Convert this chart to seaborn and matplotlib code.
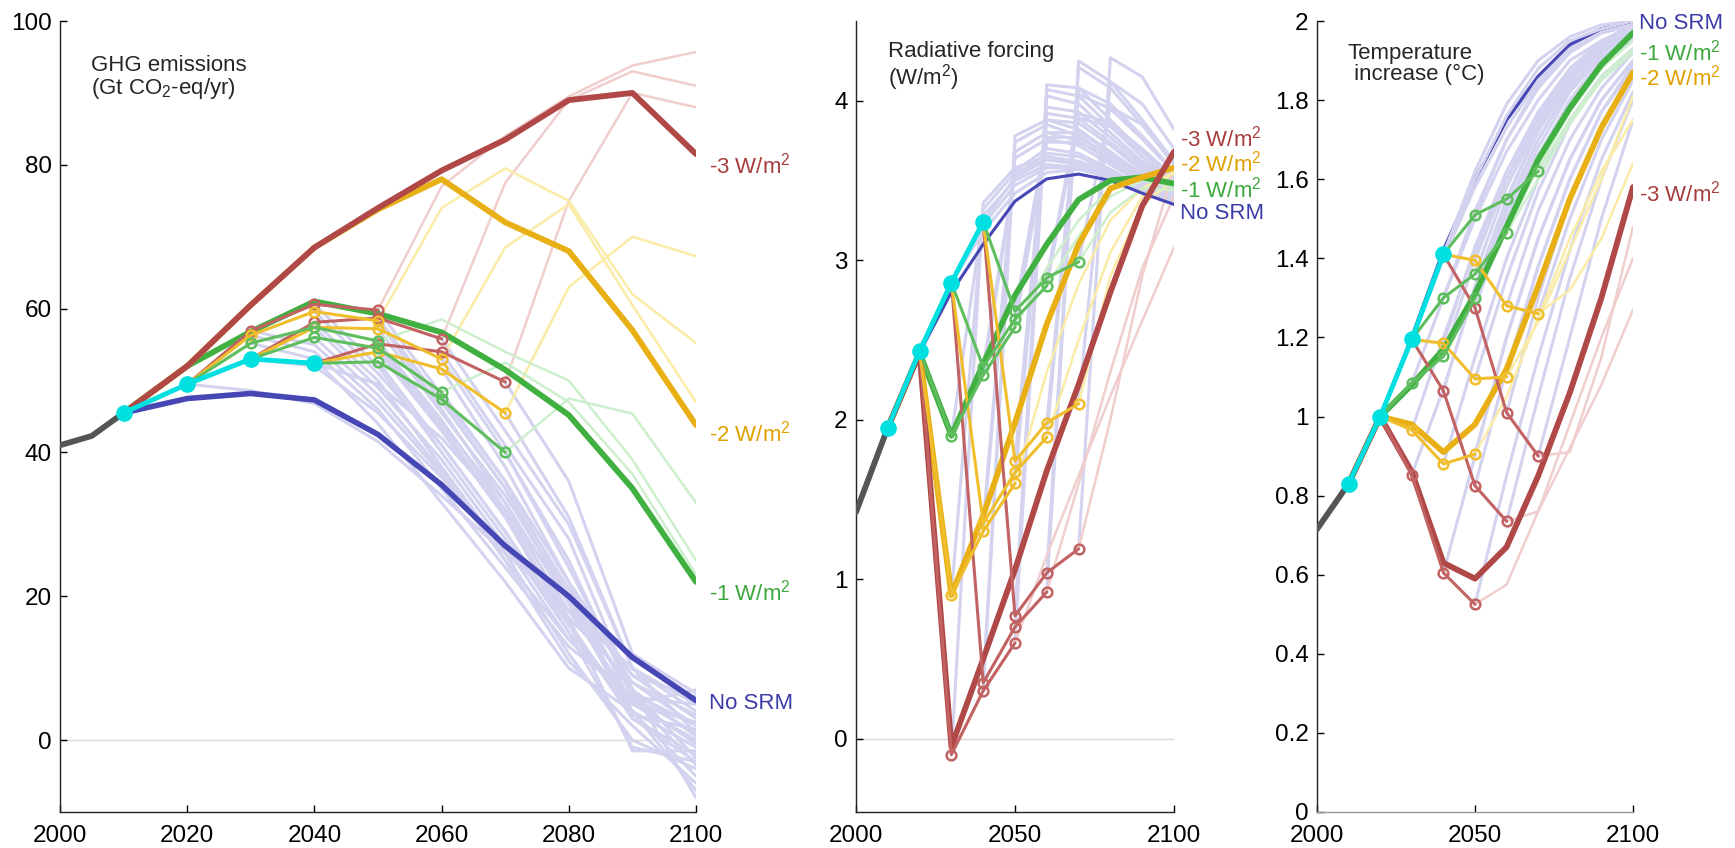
import numpy as np
import pandas as pd
import seaborn as sns
import matplotlib.pyplot as plt
from matplotlib.ticker import FormatStrFormatter

# ---------------------------------------------------------------- data
decades = [2010, 2020, 2030, 2040, 2050, 2060, 2070, 2080, 2090, 2100]

# GHG emissions (Gt CO2-eq/yr)
ghg_hist_years = [2000, 2005, 2010]
ghg_hist = [41.0, 42.3, 45.5]
ghg_cyan = [45.5, 49.5, 53.0, 52.4]
ghg_nosrm = [45.5, 47.5, 48.2, 47.3, 42.5, 35.5, 27.0, 20.0, 11.5, 5.5]
ghg_m1 = [45.5, 52.0, 56.8, 61.0, 59.3, 56.7, 51.5, 45.2, 35.0, 22.0]
ghg_m2 = [45.5, 52.0, 60.5, 68.5, 73.8, 78.0, 72.0, 68.0, 57.0, 43.8]
ghg_m3 = [45.5, 52.0, 60.5, 68.5, 74.0, 79.2, 83.5, 89.0, 90.0, 81.5]
ghg_red = [(2020, [49.5, 56.9, 60.6, 59.8]), (2030, [53.0, 58.1, 58.7, 55.8]),
           (2040, [52.4, 55.1, 54.0, 49.8])]
ghg_gold = [(2020, [49.5, 56.3, 59.6, 58.3]), (2030, [53.0, 57.4, 57.2, 53.0]),
            (2040, [52.4, 54.0, 51.6, 45.5])]
ghg_green = [(2020, [49.5, 55.2, 57.4, 55.5]), (2030, [53.0, 56.0, 54.5, 48.4]),
             (2040, [52.4, 52.6, 47.4, 40.0])]
ghg_red_faint = [(2050, [59.8, 77.0, 84.0, 89.5, 93.8, 95.7]),
                 (2060, [55.8, 77.5, 89.0, 93.0, 91.0]),
                 (2070, [49.8, 75.0, 90.0, 88.0])]
ghg_gold_faint = [(2050, [58.3, 74.0, 79.5, 75.0, 62.0, 55.2]),
                  (2060, [53.0, 68.5, 74.5, 60.5, 47.0]),
                  (2070, [45.5, 63.0, 70.0, 67.3])]
ghg_green_faint = [(2050, [55.5, 58.5, 54.0, 50.0, 39.0, 25.0]),
                   (2060, [48.4, 52.5, 47.0, 37.0, 23.0]),
                   (2070, [40.0, 47.5, 45.4, 33.0])]
ghg_lav = [
    (2020, [49.5, 48.6, 46.8, 41.5, 34.0, 26.0, 18.0, 10.0, 4.0]),
    (2030, [53.0, 52.0, 45.5, 36.5, 27.0, 17.0, 8.0, 2.0]),
    (2040, [52.4, 49.5, 42.0, 32.0, 20.0, 9.0, 3.0]),
    (2030, [56.9, 55.0, 47.0, 37.0, 25.0, 14.0, 5.0, 0.0]),
    (2030, [56.3, 54.0, 46.0, 35.0, 24.0, 13.0, 6.0, 1.0]),
    (2030, [55.2, 53.0, 44.0, 33.0, 22.0, 10.0, 4.0, -1.0]),
    (2040, [60.6, 52.0, 40.0, 28.0, 15.0, -1.0, -3.0]),
    (2040, [58.1, 50.0, 38.0, 26.0, 12.0, 0.0, -4.0]),
    (2040, [59.6, 51.0, 41.0, 29.0, 16.0, 3.0, -2.0]),
    (2040, [57.4, 49.0, 39.0, 27.0, 14.0, 6.0, 5.0]),
    (2040, [56.0, 48.0, 37.5, 25.0, 11.0, 2.0, -6.0]),
    (2050, [59.8, 48.0, 36.0, 22.0, 9.0, 6.0]),
    (2050, [58.7, 47.0, 35.0, 21.0, 8.0, 3.5]),
    (2050, [58.3, 46.0, 33.0, 19.0, 7.0, 0.5]),
    (2050, [57.2, 45.5, 34.0, 20.0, 6.5, 2.0]),
    (2050, [55.5, 44.5, 32.0, 18.0, 5.5, -0.5]),
    (2050, [55.1, 44.0, 33.0, 17.0, -1.5, -1.5]),
    (2050, [54.5, 43.5, 31.5, 16.5, 3.0, -3.0]),
    (2050, [54.0, 43.0, 31.0, 16.0, 4.0, -5.0]),
    (2050, [52.6, 41.0, 29.0, 15.0, 5.0, 2.5]),
    (2060, [55.8, 43.0, 30.0, 10.0, 5.0]),
    (2060, [54.0, 41.0, 28.0, 7.0, -8.0]),
    (2060, [53.0, 40.0, 25.0, 6.0, -3.5]),
    (2060, [51.6, 38.0, 22.0, 5.0, 7.0]),
    (2060, [48.4, 36.0, 20.0, 4.0, -7.0]),
    (2060, [47.4, 35.0, 19.0, 3.5, 1.5]),
    (2070, [49.8, 36.0, 12.0, 6.5]),
    (2070, [45.5, 31.0, 10.0, 1.0]),
    (2070, [40.0, 24.0, 7.0, -2.5]),
]

# Radiative forcing (W/m2)
rf_hist_years = [2000, 2010]
rf_hist = [1.42, 1.95]
rf_cyan = [1.95, 2.43, 2.86, 3.24]
rf_nosrm = [1.95, 2.42, 2.80, 3.10, 3.37, 3.51, 3.54, 3.50, 3.42, 3.35]
rf_m1 = [1.95, 2.42, 1.90, 2.35, 2.78, 3.10, 3.38, 3.50, 3.52, 3.48]
rf_m2 = [1.95, 2.42, 0.90, 1.40, 1.98, 2.60, 3.10, 3.45, 3.52, 3.58]
rf_m3 = [1.95, 2.42, -0.05, 0.50, 1.06, 1.68, 2.22, 2.80, 3.34, 3.68]
rf_red = [(2020, [2.43, -0.10, 0.30, 0.60]), (2030, [2.86, 0.35, 0.70, 0.92]),
          (2040, [3.24, 0.77, 1.04, 1.19])]
rf_gold = [(2020, [2.43, 0.90, 1.30, 1.60]), (2030, [2.86, 1.35, 1.67, 1.89]),
           (2040, [3.24, 1.74, 1.98, 2.10])]
rf_green = [(2020, [2.43, 1.90, 2.28, 2.58]), (2030, [2.86, 2.33, 2.63, 2.84]),
            (2040, [3.24, 2.68, 2.89, 2.99])]
rf_red_faint = [(2050, [0.60, 1.15, 1.65, 2.15, 2.62, 3.08]),
                (2060, [0.92, 1.60, 2.30, 2.95, 3.40]),
                (2070, [1.19, 2.00, 2.90, 3.58])]
rf_gold_faint = [(2050, [1.60, 2.30, 2.85, 3.25, 3.45, 3.55]),
                 (2060, [1.89, 2.50, 3.05, 3.40, 3.55]),
                 (2070, [2.10, 2.90, 3.35, 3.50])]
rf_green_faint = [(2050, [2.58, 2.95, 3.25, 3.45, 3.50, 3.48]),
                  (2060, [2.84, 3.15, 3.40, 3.50, 3.46]),
                  (2070, [2.99, 3.30, 3.45, 3.44])]
rf_lav = [
    (2020, [2.43, 2.86, 3.18, 3.42, 3.55, 3.57, 3.52, 3.44, 3.36]),
    (2030, [2.86, 3.22, 3.47, 3.58, 3.58, 3.52, 3.44, 3.37]),
    (2040, [3.24, 3.52, 3.63, 3.62, 3.55, 3.46, 3.38]),
    (2030, [-0.10, 3.36, 3.58, 3.65, 3.62, 3.55, 3.45, 3.37]),
    (2030, [0.90, 3.32, 3.55, 3.63, 3.60, 3.53, 3.44, 3.36]),
    (2030, [1.90, 3.28, 3.50, 3.60, 3.58, 3.52, 3.43, 3.35]),
    (2040, [0.35, 3.78, 3.88, 3.82, 3.68, 3.52, 3.40]),
    (2040, [0.30, 3.74, 3.85, 3.78, 3.64, 3.50, 3.39]),
    (2040, [1.35, 3.68, 3.80, 3.75, 3.62, 3.49, 3.38]),
    (2040, [1.30, 3.64, 3.76, 3.72, 3.60, 3.48, 3.37]),
    (2040, [2.33, 3.56, 3.70, 3.67, 3.57, 3.46, 3.36]),
    (2040, [2.28, 3.53, 3.67, 3.65, 3.56, 3.45, 3.36]),
    (2050, [0.77, 4.10, 4.08, 3.88, 3.68, 3.48]),
    (2050, [0.70, 4.07, 4.03, 3.84, 3.65, 3.46]),
    (2050, [0.60, 4.03, 3.98, 3.80, 3.62, 3.45]),
    (2050, [1.74, 3.96, 3.93, 3.77, 3.60, 3.44]),
    (2050, [1.67, 3.92, 3.89, 3.74, 3.58, 3.43]),
    (2050, [1.60, 3.88, 3.86, 3.72, 3.56, 3.42]),
    (2050, [2.68, 3.80, 3.80, 3.68, 3.54, 3.41]),
    (2050, [2.63, 3.77, 3.77, 3.66, 3.53, 3.40]),
    (2050, [2.58, 3.74, 3.74, 3.64, 3.52, 3.40]),
    (2060, [1.04, 4.25, 4.12, 3.88, 3.62]),
    (2060, [0.92, 4.21, 4.08, 3.85, 3.60]),
    (2060, [1.98, 4.08, 3.98, 3.78, 3.56]),
    (2060, [1.89, 4.04, 3.95, 3.76, 3.55]),
    (2060, [2.89, 3.92, 3.86, 3.70, 3.52]),
    (2060, [2.84, 3.89, 3.84, 3.68, 3.50]),
    (2070, [1.19, 4.27, 4.15, 3.82]),
    (2070, [2.10, 4.12, 3.98, 3.70]),
    (2070, [2.99, 3.96, 3.85, 3.62]),
]

# Temperature increase (deg C)
t_hist_years = [2000, 2010]
t_hist = [0.715, 0.83]
t_cyan = [0.83, 1.0, 1.195, 1.41]
t_nosrm = [0.83, 1.0, 1.20, 1.42, 1.60, 1.75, 1.86, 1.94, 1.98, 2.0]
t_m1 = [0.83, 1.0, 1.08, 1.17, 1.31, 1.48, 1.65, 1.78, 1.89, 1.97]
t_m2 = [0.83, 1.0, 0.98, 0.91, 0.98, 1.12, 1.33, 1.55, 1.73, 1.87]
t_m3 = [0.83, 1.0, 0.86, 0.63, 0.59, 0.67, 0.85, 1.06, 1.30, 1.58]
t_red = [(2020, [1.0, 0.853, 0.605, 0.525]), (2030, [1.195, 1.065, 0.825, 0.735]),
         (2040, [1.41, 1.275, 1.01, 0.90])]
t_gold = [(2020, [1.0, 0.966, 0.88, 0.905]), (2030, [1.195, 1.185, 1.095, 1.10]),
          (2040, [1.41, 1.395, 1.28, 1.26])]
t_green = [(2020, [1.0, 1.085, 1.152, 1.30]), (2030, [1.195, 1.30, 1.36, 1.465]),
           (2040, [1.41, 1.51, 1.55, 1.62])]
t_red_faint = [(2050, [0.525, 0.575, 0.76, 0.98, 1.20, 1.40]),
               (2060, [0.735, 0.76, 0.92, 1.08, 1.27]),
               (2070, [0.90, 0.91, 1.15, 1.48])]
t_gold_faint = [(2050, [0.905, 1.05, 1.25, 1.45, 1.62, 1.75]),
                (2060, [1.10, 1.24, 1.42, 1.60, 1.81]),
                (2070, [1.26, 1.32, 1.45, 1.64])]
t_green_faint = [(2050, [1.30, 1.47, 1.63, 1.77, 1.88, 1.95]),
                 (2060, [1.465, 1.60, 1.74, 1.85, 1.92]),
                 (2070, [1.62, 1.75, 1.86, 1.93])]
t_lav = [
    (2020, [1.0, 1.19, 1.40, 1.58, 1.73, 1.85, 1.93, 1.97, 1.99]),
    (2030, [1.195, 1.41, 1.60, 1.76, 1.88, 1.95, 1.98, 2.0]),
    (2040, [1.41, 1.62, 1.79, 1.90, 1.96, 1.99, 2.0]),
    (2030, [0.853, 1.07, 1.32, 1.53, 1.70, 1.83, 1.92, 1.97]),
    (2030, [0.966, 1.20, 1.42, 1.60, 1.75, 1.86, 1.93, 1.98]),
    (2030, [1.085, 1.30, 1.50, 1.67, 1.80, 1.90, 1.95, 1.99]),
    (2040, [0.605, 0.90, 1.20, 1.45, 1.65, 1.80, 1.90]),
    (2040, [1.065, 1.33, 1.55, 1.72, 1.85, 1.93, 1.97]),
    (2040, [0.88, 1.15, 1.40, 1.60, 1.75, 1.86, 1.93]),
    (2040, [1.185, 1.43, 1.62, 1.77, 1.88, 1.95, 1.98]),
    (2040, [1.152, 1.40, 1.60, 1.76, 1.87, 1.94, 1.98]),
    (2040, [1.30, 1.52, 1.70, 1.83, 1.92, 1.97, 1.99]),
    (2050, [0.525, 0.85, 1.15, 1.42, 1.65, 1.82]),
    (2050, [0.825, 1.12, 1.38, 1.60, 1.77, 1.89]),
    (2050, [1.275, 1.50, 1.68, 1.82, 1.91, 1.96]),
    (2050, [0.905, 1.20, 1.45, 1.65, 1.80, 1.90]),
    (2050, [1.095, 1.35, 1.57, 1.74, 1.86, 1.93]),
    (2050, [1.395, 1.60, 1.76, 1.87, 1.94, 1.98]),
    (2050, [1.30, 1.52, 1.70, 1.84, 1.92, 1.97]),
    (2050, [1.36, 1.58, 1.74, 1.86, 1.93, 1.98]),
    (2050, [1.51, 1.70, 1.84, 1.92, 1.97, 1.99]),
    (2060, [0.735, 1.05, 1.35, 1.60, 1.80]),
    (2060, [1.01, 1.30, 1.55, 1.74, 1.87]),
    (2060, [1.10, 1.38, 1.60, 1.77, 1.88]),
    (2060, [1.28, 1.52, 1.70, 1.83, 1.92]),
    (2060, [1.465, 1.66, 1.80, 1.90, 1.96]),
    (2060, [1.55, 1.73, 1.86, 1.94, 1.98]),
    (2070, [0.90, 1.20, 1.50, 1.75]),
    (2070, [1.26, 1.50, 1.70, 1.85]),
    (2070, [1.62, 1.80, 1.90, 1.95]),
]

label_texts = ["-3 W/m$^{2}$", "-2 W/m$^{2}$", "-1 W/m$^{2}$", "No SRM"]
ghg_label_y = [80.2, 43.0, 20.8, 5.4]
rf_label_y = [3.78, 3.62, 3.46, 3.31]
t_label_y = [1.57, 1.864, 1.927, 2.0]

# ---------------------------------------------------------------- style
sns.set_style("ticks")
plt.rcParams["font.family"] = ["Liberation Sans", "DejaVu Sans"]
plt.rcParams["mathtext.fontset"] = "custom"
plt.rcParams["mathtext.rm"] = "Liberation Sans"
plt.rcParams["mathtext.it"] = "Liberation Sans:italic"

LAV = "#D3D3F0"
THICK = ["#B04848", "#E8B014", "#40B040", "#4646B4"]   # -3, -2, -1, no SRM
MID = ["#C26262", "#F0BE2C", "#5EBE5E"]
FAINT = ["#F0CECE", "#FAECA6", "#CDEFCD"]
LABEL_C = ["#A83C3C", "#E0A000", "#3CA83C", "#3C3CA8"]
CYAN = "#00E0E0"
HIST = "#555555"


def long_table(lines):
    rows = []
    for i, (start, vals) in enumerate(lines):
        for k, v in enumerate(vals):
            rows.append((i, start + 10 * k, v))
    return pd.DataFrame(rows, columns=["line", "year", "value"])


def draw(ax, lines, **kw):
    sns.lineplot(data=long_table(lines), x="year", y="value", units="line",
                 estimator=None, ax=ax, legend=False, sort=False, **kw)


def panel(ax, hist_x, hist_y, thick, cyan, mids, faints, lav, ylim, yticks,
          xticks, title, title_pos, label_y, zero, nosrm_lw=4, nosrm_z=2):
    if zero:
        ax.axhline(0, color="#DADADA", lw=1, zorder=0.5)
    draw(ax, lav, color=LAV, lw=2.2, zorder=1)
    for c, f in zip(FAINT, faints):
        draw(ax, f, color=c, lw=1.8, zorder=1.5)
    draw(ax, [(2010, thick[3])], color=THICK[3], lw=nosrm_lw, zorder=nosrm_z)
    for c, t in zip(THICK[2::-1], thick[2::-1]):
        draw(ax, [(2010, t)], color=c, lw=4.2, zorder=2.5)
    sns.lineplot(x=hist_x, y=hist_y, color=HIST, lw=4.2, ax=ax, zorder=3)
    for c, m in zip(MID, mids):
        draw(ax, m, color=c, lw=2.2, zorder=4, marker="o", markersize=7,
             markerfacecolor="none", markeredgecolor=c, markeredgewidth=1.8)
    sns.lineplot(x=decades[:len(cyan)], y=cyan, color=CYAN, lw=3.5, ax=ax,
                 zorder=5, marker="o", markersize=12, markeredgecolor=CYAN,
                 markeredgewidth=0)

    ax.set_xlim(2000, 2100)
    ax.set_ylim(*ylim)
    ax.set_xticks(xticks)
    ax.set_yticks(yticks)
    ax.yaxis.set_major_formatter(FormatStrFormatter("%g"))
    ax.set_xlabel("")
    ax.set_ylabel("")
    sns.despine(ax=ax)
    ax.tick_params(direction="in", length=5, width=1, labelsize=17.5, pad=6,
                   colors="black")
    ax.tick_params(axis="x", pad=9)
    for s in ("left", "bottom"):
        ax.spines[s].set_linewidth(1)
        ax.spines[s].set_color("#222222")
    ax.text(title_pos[0], title_pos[1], title, transform=ax.transAxes,
            ha="left", va="top", fontsize=16, linespacing=1.0)
    for txt, y, c in zip(label_texts, label_y, LABEL_C):
        ax.text(2102, y, txt, color=c, fontsize=16, ha="left",
                va="center_baseline", clip_on=False)


fig = plt.figure(figsize=(17.35, 8.48), dpi=100)
bot, hgt = 36 / 848, 791 / 848
ax1 = fig.add_axes([60 / 1735, bot, 636 / 1735, hgt])
ax2 = fig.add_axes([856 / 1735, bot, 318 / 1735, hgt])
ax3 = fig.add_axes([1317 / 1735, bot, 316 / 1735, hgt])

panel(ax1, ghg_hist_years, ghg_hist, [ghg_m3, ghg_m2, ghg_m1, ghg_nosrm], ghg_cyan,
      [ghg_red, ghg_gold, ghg_green], [ghg_red_faint, ghg_gold_faint, ghg_green_faint],
      ghg_lav, (-10, 100), [0, 20, 40, 60, 80, 100], [2000, 2020, 2040, 2060, 2080, 2100],
      "GHG emissions\n(Gt CO$_{2}$-eq/yr)", (0.049, 0.957), ghg_label_y, True)

panel(ax2, rf_hist_years, rf_hist, [rf_m3, rf_m2, rf_m1, rf_nosrm], rf_cyan,
      [rf_red, rf_gold, rf_green], [rf_red_faint, rf_gold_faint, rf_green_faint],
      rf_lav, (-0.46, 4.5), [0, 1, 2, 3, 4], [2000, 2050, 2100],
      "Radiative forcing\n(W/m$^{2}$)", (0.10, 0.975), rf_label_y, True, nosrm_lw=2.2)

panel(ax3, t_hist_years, t_hist, [t_m3, t_m2, t_m1, t_nosrm], t_cyan,
      [t_red, t_gold, t_green], [t_red_faint, t_gold_faint, t_green_faint],
      t_lav, (0, 2), [0, 0.2, 0.4, 0.6, 0.8, 1, 1.2, 1.4, 1.6, 1.8, 2],
      [2000, 2050, 2100], "Temperature\n increase (°C)", (0.098, 0.972),
      t_label_y, False, nosrm_lw=2.5, nosrm_z=0.9)
ax3.spines["bottom"].set_color("#999999")

fig.savefig("out.png", dpi=100)
